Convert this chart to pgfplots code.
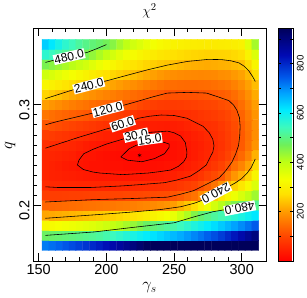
\documentclass[border=0pt]{standalone}
\usepackage{pgfplots}
\usepackage{pgfplotstable}
\usepackage{fontspec}
\pgfplotsset{compat=1.18}
\newfontfamily\tickfont{Liberation Sans}

\pgfplotstableread{
x y c
155 0.16 715
160 0.16 725
165 0.16 735
170 0.16 748
175 0.16 760
180 0.16 772
185 0.16 785
190 0.16 798
195 0.16 812
200 0.16 828
205 0.16 845
210 0.16 862
215 0.16 880
220 0.16 900
225 0.16 920
230 0.16 940
235 0.16 944
240 0.16 944
245 0.16 944
250 0.16 944
255 0.16 944
260 0.16 944
265 0.16 944
270 0.16 944
275 0.16 944
280 0.16 944
285 0.16 944
290 0.16 944
295 0.16 944
300 0.16 944
305 0.16 944
310 0.16 944
155 0.17 478
160 0.17 482
165 0.17 486
170 0.17 490
175 0.17 495
180 0.17 500
185 0.17 506
190 0.17 512
195 0.17 520
200 0.17 530
205 0.17 542
210 0.17 555
215 0.17 568
220 0.17 582
225 0.17 596
230 0.17 608
235 0.17 620
240 0.17 632
245 0.17 645
250 0.17 658
255 0.17 672
260 0.17 688
265 0.17 704
270 0.17 720
275 0.17 738
280 0.17 756
285 0.17 776
290 0.17 797
295 0.17 820
300 0.17 845
305 0.17 870
310 0.17 900
155 0.18 319
160 0.18 324
165 0.18 331
170 0.18 337
175 0.18 342
180 0.18 348
185 0.18 355
190 0.18 361
195 0.18 371
200 0.18 383
205 0.18 395
210 0.18 408
215 0.18 423
220 0.18 438
225 0.18 458
230 0.18 480
235 0.18 491
240 0.18 503
245 0.18 514
250 0.18 525
255 0.18 542
260 0.18 559
265 0.18 576
270 0.18 592
275 0.18 608
280 0.18 625
285 0.18 643
290 0.18 661
295 0.18 680
300 0.18 700
305 0.18 720
310 0.18 743
155 0.19 211
160 0.19 215
165 0.19 219
170 0.19 223
175 0.19 227
180 0.19 231
185 0.19 236
190 0.19 240
195 0.19 245
200 0.19 251
205 0.19 256
210 0.19 262
215 0.19 269
220 0.19 276
225 0.19 286
230 0.19 296
235 0.19 308
240 0.19 320
245 0.19 333
250 0.19 348
255 0.19 382
260 0.19 416
265 0.19 455
270 0.19 487
275 0.19 502
280 0.19 518
285 0.19 533
290 0.19 548
295 0.19 564
300 0.19 580
305 0.19 597
310 0.19 615
155 0.20 137
160 0.20 139
165 0.20 142
170 0.20 144
175 0.20 147
180 0.20 149
185 0.20 152
190 0.20 153
195 0.20 156
200 0.20 158
205 0.20 160
210 0.20 163
215 0.20 165
220 0.20 168
225 0.20 172
230 0.20 176
235 0.20 181
240 0.20 187
245 0.20 193
250 0.20 203
255 0.20 223
260 0.20 244
265 0.20 267
270 0.20 306
275 0.20 342
280 0.20 376
285 0.20 408
290 0.20 435
295 0.20 459
300 0.20 480
305 0.20 494
310 0.20 508
155 0.21 88
160 0.21 88
165 0.21 88
170 0.21 89
175 0.21 90
180 0.21 91
185 0.21 92
190 0.21 93
195 0.21 94
200 0.21 95
205 0.21 97
210 0.21 98
215 0.21 100
220 0.21 101
225 0.21 102
230 0.21 104
235 0.21 105
240 0.21 107
245 0.21 109
250 0.21 117
255 0.21 127
260 0.21 141
265 0.21 154
270 0.21 184
275 0.21 216
280 0.21 250
285 0.21 284
290 0.21 314
295 0.21 342
300 0.21 370
305 0.21 398
310 0.21 429
155 0.22 59
160 0.22 58
165 0.22 57
170 0.22 56
175 0.22 56
180 0.22 55
185 0.22 54
190 0.22 54
195 0.22 54
200 0.22 55
205 0.22 56
210 0.22 57
215 0.22 58
220 0.22 60
225 0.22 62
230 0.22 63
235 0.22 65
240 0.22 66
245 0.22 69
250 0.22 74
255 0.22 80
260 0.22 87
265 0.22 95
270 0.22 111
275 0.22 130
280 0.22 154
285 0.22 189
290 0.22 226
295 0.22 255
300 0.22 284
305 0.22 320
310 0.22 365
155 0.23 51
160 0.23 48
165 0.23 46
170 0.23 43
175 0.23 41
180 0.23 39
185 0.23 36
190 0.23 34
195 0.23 33
200 0.23 33
205 0.23 32
210 0.23 31
215 0.23 31
220 0.23 31
225 0.23 32
230 0.23 34
235 0.23 36
240 0.23 38
245 0.23 40
250 0.23 44
255 0.23 51
260 0.23 56
265 0.23 63
270 0.23 76
275 0.23 92
280 0.23 104
285 0.23 120
290 0.23 157
295 0.23 194
300 0.23 219
305 0.23 256
310 0.23 311
155 0.24 51
160 0.24 47
165 0.24 43
170 0.24 38
175 0.24 34
180 0.24 30
185 0.24 27
190 0.24 25
195 0.24 24
200 0.24 23
205 0.24 21
210 0.24 21
215 0.24 19
220 0.24 19
225 0.24 18
230 0.24 19
235 0.24 20
240 0.24 22
245 0.24 25
250 0.24 28
255 0.24 31
260 0.24 40
265 0.24 47
270 0.24 55
275 0.24 67
280 0.24 79
285 0.24 93
290 0.24 113
295 0.24 149
300 0.24 172
305 0.24 207
310 0.24 264
155 0.25 56
160 0.25 53
165 0.25 50
170 0.25 46
175 0.25 43
180 0.25 35
185 0.25 29
190 0.25 28
195 0.25 25
200 0.25 22
205 0.25 19
210 0.25 17
215 0.25 13
220 0.25 10
225 0.25 8
230 0.25 9
235 0.25 11
240 0.25 13
245 0.25 16
250 0.25 21
255 0.25 26
260 0.25 32
265 0.25 39
270 0.25 47
275 0.25 55
280 0.25 65
285 0.25 77
290 0.25 94
295 0.25 116
300 0.25 140
305 0.25 173
310 0.25 223
155 0.26 66
160 0.26 62
165 0.26 59
170 0.26 56
175 0.26 53
180 0.26 48
185 0.26 40
190 0.26 36
195 0.26 33
200 0.26 29
205 0.26 27
210 0.26 25
215 0.26 21
220 0.26 17
225 0.26 14
230 0.26 13
235 0.26 13
240 0.26 14
245 0.26 15
250 0.26 22
255 0.26 26
260 0.26 32
265 0.26 39
270 0.26 45
275 0.26 53
280 0.26 61
285 0.26 72
290 0.26 86
295 0.26 103
300 0.26 124
305 0.26 154
310 0.26 193
155 0.27 89
160 0.27 84
165 0.27 79
170 0.27 74
175 0.27 70
180 0.27 65
185 0.27 60
190 0.27 55
195 0.27 50
200 0.27 46
205 0.27 42
210 0.27 39
215 0.27 35
220 0.27 31
225 0.27 28
230 0.27 26
235 0.27 24
240 0.27 24
245 0.27 25
250 0.27 29
255 0.27 31
260 0.27 38
265 0.27 44
270 0.27 50
275 0.27 57
280 0.27 64
285 0.27 74
290 0.27 87
295 0.27 103
300 0.27 123
305 0.27 150
310 0.27 185
155 0.28 120
160 0.28 113
165 0.28 107
170 0.28 102
175 0.28 96
180 0.28 91
185 0.28 85
190 0.28 80
195 0.28 75
200 0.28 70
205 0.28 66
210 0.28 62
215 0.28 55
220 0.28 49
225 0.28 44
230 0.28 42
235 0.28 41
240 0.28 40
245 0.28 39
250 0.28 42
255 0.28 45
260 0.28 50
265 0.28 56
270 0.28 61
275 0.28 67
280 0.28 71
285 0.28 81
290 0.28 92
295 0.28 106
300 0.28 127
305 0.28 153
310 0.28 187
155 0.29 157
160 0.29 149
165 0.29 142
170 0.29 136
175 0.29 130
180 0.29 125
185 0.29 120
190 0.29 113
195 0.29 107
200 0.29 101
205 0.29 95
210 0.29 89
215 0.29 82
220 0.29 75
225 0.29 68
230 0.29 64
235 0.29 62
240 0.29 61
245 0.29 61
250 0.29 62
255 0.29 64
260 0.29 66
265 0.29 71
270 0.29 76
275 0.29 81
280 0.29 84
285 0.29 92
290 0.29 101
295 0.29 113
300 0.29 135
305 0.29 161
310 0.29 193
155 0.30 204
160 0.30 194
165 0.30 184
170 0.30 175
175 0.30 167
180 0.30 160
185 0.30 153
190 0.30 147
195 0.30 141
200 0.30 136
205 0.30 130
210 0.30 125
215 0.30 120
220 0.30 111
225 0.30 102
230 0.30 95
235 0.30 89
240 0.30 85
245 0.30 83
250 0.30 83
255 0.30 85
260 0.30 87
265 0.30 90
270 0.30 94
275 0.30 98
280 0.30 101
285 0.30 108
290 0.30 114
295 0.30 125
300 0.30 147
305 0.30 172
310 0.30 203
155 0.31 259
160 0.31 249
165 0.31 238
170 0.31 226
175 0.31 214
180 0.31 205
185 0.31 196
190 0.31 188
195 0.31 180
200 0.31 173
205 0.31 166
210 0.31 159
215 0.31 152
220 0.31 145
225 0.31 139
230 0.31 132
235 0.31 126
240 0.31 120
245 0.31 114
250 0.31 113
255 0.31 113
260 0.31 113
265 0.31 114
270 0.31 116
275 0.31 118
280 0.31 122
285 0.31 128
290 0.31 133
295 0.31 146
300 0.31 163
305 0.31 187
310 0.31 217
155 0.32 314
160 0.32 303
165 0.32 291
170 0.32 280
175 0.32 268
180 0.32 258
185 0.32 249
190 0.32 240
195 0.32 230
200 0.32 220
205 0.32 210
210 0.32 202
215 0.32 193
220 0.32 185
225 0.32 177
230 0.32 169
235 0.32 161
240 0.32 154
245 0.32 148
250 0.32 146
255 0.32 144
260 0.32 143
265 0.32 143
270 0.32 144
275 0.32 145
280 0.32 149
285 0.32 154
290 0.32 158
295 0.32 170
300 0.32 184
305 0.32 206
310 0.32 234
155 0.33 381
160 0.33 368
165 0.33 355
170 0.33 342
175 0.33 329
180 0.33 318
185 0.33 306
190 0.33 294
195 0.33 282
200 0.33 271
205 0.33 260
210 0.33 252
215 0.33 244
220 0.33 235
225 0.33 225
230 0.33 216
235 0.33 206
240 0.33 197
245 0.33 190
250 0.33 186
255 0.33 182
260 0.33 179
265 0.33 178
270 0.33 177
275 0.33 178
280 0.33 180
285 0.33 185
290 0.33 188
295 0.33 198
300 0.33 208
305 0.33 230
310 0.33 267
155 0.34 462
160 0.34 448
165 0.34 433
170 0.34 419
175 0.34 404
180 0.34 390
185 0.34 377
190 0.34 360
195 0.34 343
200 0.34 328
205 0.34 313
210 0.34 299
215 0.34 287
220 0.34 277
225 0.34 268
230 0.34 260
235 0.34 253
240 0.34 246
245 0.34 242
250 0.34 237
255 0.34 230
260 0.34 224
265 0.34 221
270 0.34 219
275 0.34 217
280 0.34 219
285 0.34 222
290 0.34 224
295 0.34 231
300 0.34 237
305 0.34 263
310 0.34 312
155 0.35 560
160 0.35 543
165 0.35 527
170 0.35 511
175 0.35 495
180 0.35 480
185 0.35 463
190 0.35 440
195 0.35 418
200 0.35 397
205 0.35 375
210 0.35 356
215 0.35 339
220 0.35 323
225 0.35 312
230 0.35 301
235 0.35 291
240 0.35 282
245 0.35 275
250 0.35 271
255 0.35 267
260 0.35 263
265 0.35 260
270 0.35 258
275 0.35 256
280 0.35 257
285 0.35 258
290 0.35 259
295 0.35 264
300 0.35 270
305 0.35 307
310 0.35 364
155 0.36 640
160 0.36 615
165 0.36 585
170 0.36 560
175 0.36 540
180 0.36 520
185 0.36 505
190 0.36 492
195 0.36 482
200 0.36 470
205 0.36 450
210 0.36 423
215 0.36 400
220 0.36 379
225 0.36 363
230 0.36 347
235 0.36 334
240 0.36 322
245 0.36 313
250 0.36 308
255 0.36 303
260 0.36 299
265 0.36 296
270 0.36 294
275 0.36 291
280 0.36 292
285 0.36 294
290 0.36 295
295 0.36 300
300 0.36 306
305 0.36 358
310 0.36 424
}\chidata

\tikzset{clab/.style={fill=white, inner sep=0.8pt, text=black, font=\tickfont\fontsize{12.5}{13}\selectfont}}

\begin{document}
\begin{tikzpicture}
\path (-34bp,-38bp) rectangle (273bp,266bp);
\begin{axis}[
  at={(0,0)}, anchor=south west,
  scale only axis, width=241bp, height=241bp,
  xmin=145.7, xmax=317.9, ymin=0.1445, ymax=0.3763,
  xtick={150,200,250,300}, ytick={0.2,0.3},
  yticklabels={0.2,0.3},
  minor x tick num=4, minor y tick num=9,
  tick align=inside, tick pos=both,
  major tick length=8bp, minor tick length=4bp,
  tick style={black, line width=0.6pt},
  axis line style={black, line width=0.7pt},
  every tick label/.style={font=\tickfont\fontsize{15}{15}\selectfont},
  /pgf/number format/assume math mode=true,
  /pgf/number format/1000 sep={},
  every y tick label/.style={rotate=90, anchor=south, xshift=-5.5bp},
  title={$\chi^2$},
  title style={at={(axis description cs:0.5,1.05)}, anchor=center, font=\fontsize{15}{15}\selectfont},
  xlabel={$\gamma_s$},
  xlabel style={at={(axis description cs:0.5,-0.114)}, anchor=center, font=\fontsize{17}{17}\selectfont},
  ylabel={$q$},
  ylabel style={at={(axis description cs:-0.097,0.495)}, anchor=center, font=\fontsize{17}{17}\selectfont},
  colormap={chimap}{rgb255(0pt)=(255,0,0); rgb255(10pt)=(255,70,0); rgb255(20pt)=(255,155,0); rgb255(27pt)=(255,225,0); rgb255(33pt)=(245,255,0); rgb255(40pt)=(190,255,20); rgb255(47pt)=(110,240,90); rgb255(54pt)=(60,250,190); rgb255(61pt)=(0,235,255); rgb255(68pt)=(0,160,255); rgb255(74pt)=(0,90,235); rgb255(83pt)=(0,10,180); rgb255(94pt)=(0,0,90)},
  point meta min=0, point meta max=944,
  colorbar,
  colorbar style={
    scale only axis, width=16bp, height=241bp,
    at={(parent axis.north east)}, anchor=north west, xshift=4bp,
    ytick={200,400,600,800},
    yticklabels={200,400,600,800},
    minor ytick={100,300,500,700,900},
    tick align=inside,
    major tick length=3.5bp, minor tick length=3.5bp,
    ytick pos=both, yticklabel pos=right,
    tick style={black, line width=0.5pt},
    axis line style={black, line width=0.7pt},
    every tick label/.style={font=\tickfont\fontsize{10}{10}\selectfont},
    every y tick label/.style={rotate=90, anchor=north},
  },
]
\addplot[matrix plot*, mesh/cols=32, mesh/rows=21, point meta=explicit] table[x=x, y=y, meta=c] {\chidata};

% contour lines
\addplot[black, line width=0.6pt] coordinates {(155,0.342) (165,0.3455) (175,0.3487) (186,0.352) (193,0.3557) (200,0.3597)};
\addplot[black, line width=0.6pt] coordinates {(155,0.306) (165,0.3103) (176,0.315) (190,0.320) (212,0.328) (230,0.3345) (245,0.3393) (260,0.343) (275,0.345) (285,0.3448) (292,0.3436) (298,0.3415) (302,0.338) (305,0.334) (308,0.328) (310,0.323)};
\addplot[black, line width=0.6pt] coordinates {(155,0.280) (164,0.2833) (180,0.2884) (202,0.2954) (221,0.3025) (235,0.308) (245,0.3115) (260,0.3122) (274,0.3115) (283,0.3075) (290.5,0.304) (294,0.2995) (296.4,0.2945) (298.3,0.2870) (298.8,0.2785) (298.5,0.2690) (297.6,0.2592) (295.5,0.2510) (292.9,0.2432) (288,0.234) (283.3,0.2272) (275,0.2215) (264.3,0.2144) (255,0.211) (245.2,0.208) (220,0.2067) (190,0.2055) (155,0.2032)};
\addplot[black, line width=0.6pt] coordinates {(155,0.2567) (164.3,0.2608) (180,0.2677) (200,0.2758) (211.9,0.2801) (223.8,0.2865) (232,0.2885) (240.5,0.2897) (250,0.2892) (259.5,0.2865) (265,0.2828) (271.4,0.2785) (276,0.2720) (278.6,0.2656) (279.5,0.259) (278.6,0.2528) (276,0.2460) (273.8,0.24) (268,0.2340) (261.9,0.2288) (252,0.2250) (242.9,0.2224) (225,0.2205) (211.9,0.2192) (188.1,0.2176) (164.3,0.2176) (155,0.2183)};
\addplot[black, line width=0.6pt] coordinates {(178.6,0.240) (183,0.2355) (190,0.233) (195.2,0.232) (211.9,0.2304) (231,0.232) (240,0.2335) (247.6,0.235) (253,0.2385) (257.1,0.2432) (259.2,0.248) (259.5,0.2528) (258.3,0.2624) (254.8,0.2688) (250,0.272) (245.2,0.2737) (233,0.2725) (222,0.2705) (211.9,0.2656) (200,0.2608) (190,0.2555) (183.3,0.2512) (179.8,0.245) (178.6,0.240)};
\addplot[black, line width=0.6pt] coordinates {(210.7,0.248) (215.5,0.2448) (226.2,0.2432) (235.7,0.2464) (242.9,0.2512) (246.4,0.2576) (246.4,0.2608) (242.9,0.2624) (232,0.2645) (221.4,0.2592) (216.7,0.256) (210.7,0.248)};
\addplot[black, line width=0.6pt] coordinates {(155,0.187) (191,0.1904) (217,0.193) (240,0.1957) (255,0.1985) (265,0.202) (272,0.2055) (281,0.2125) (290,0.2183) (295,0.222) (300,0.2265) (304,0.232) (307,0.2375) (310,0.246)};
\addplot[black, line width=0.6pt] coordinates {(155,0.170) (191,0.1734) (220,0.178) (250,0.1825) (265,0.1885) (279,0.1936) (286,0.1952) (300,0.1975) (310,0.2015)};

% contour labels
\addplot[draw=none] coordinates {(162,0.3445) (183,0.351)} node[pos=0.5, sloped, clab] {480.0};
\addplot[draw=none] coordinates {(176,0.315) (198,0.3229)} node[pos=0.5, sloped, clab] {240.0};
\addplot[draw=none] coordinates {(190,0.2916) (212,0.2992)} node[pos=0.5, sloped, clab] {120.0};
\addplot[draw=none] coordinates {(202,0.2765) (222,0.2855)} node[pos=0.5, sloped, clab] {60.0};
\addplot[draw=none] coordinates {(212,0.2665) (232,0.2728)} node[pos=0.5, sloped, clab] {30.0};
\addplot[draw=none] coordinates {(223,0.2638) (241,0.2672)} node[pos=0.5, sloped, clab] {15.0};
\addplot[draw=none] coordinates {(290,0.2183) (272,0.2055)} node[pos=0.5, sloped, allow upside down, clab] {240.0};
\addplot[draw=none] coordinates {(312,0.2005) (285,0.1935)} node[pos=0.5, sloped, allow upside down, clab] {480.0};

% best fit
\addplot[only marks, mark=asterisk, mark size=2bp, black, line width=0.4pt] coordinates {(224.5,0.2496)};
\end{axis}
\end{tikzpicture}
\end{document}
